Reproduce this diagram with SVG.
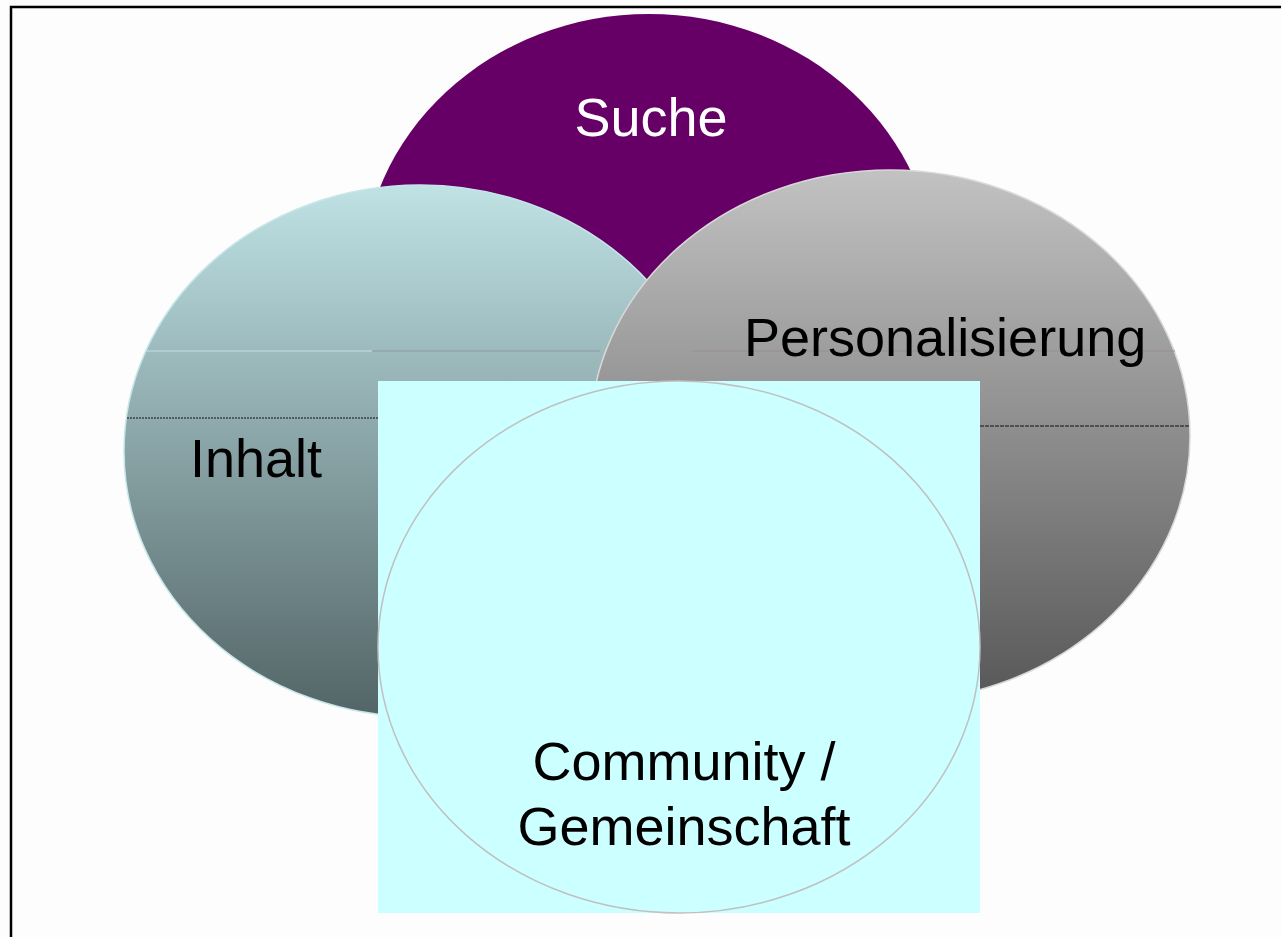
<svg xmlns="http://www.w3.org/2000/svg" width="1281" height="937" viewBox="0 0 1281 937">
  <style>
    .lbl { font-family: "Liberation Sans", Arial, sans-serif; font-size: 54px; fill: #000; }
    .white { fill: #ffffff; }
  </style>
  <defs>
    <linearGradient id="gTeal" x1="0" y1="0" x2="0" y2="1">
      <stop offset="0" stop-color="#bfe2e5"/>
      <stop offset="1" stop-color="#526466"/>
    </linearGradient>
    <linearGradient id="gGray" x1="0" y1="0" x2="0" y2="1">
      <stop offset="0" stop-color="#c2c2c2"/>
      <stop offset="1" stop-color="#575757"/>
    </linearGradient>
  </defs>
  <rect x="0" y="0" width="1281" height="937" fill="#fdfdfd"/>
  <rect x="11" y="7" width="1290" height="950" fill="none" stroke="#000" stroke-width="2.5"/>

  <g id="suche">
    <ellipse cx="649" cy="280" rx="287" ry="266" fill="#660066"/>
    <text class="lbl white" x="651" y="136" text-anchor="middle">Suche</text>
  </g>

  <g id="inhalt">
    <ellipse cx="420" cy="451" rx="296" ry="266" fill="url(#gTeal)" stroke="#c6e6e8" stroke-width="1.5"/>
    <line x1="146" y1="351" x2="372" y2="351" stroke="#c4e2e4" stroke-width="1"/>
    <line x1="372" y1="351" x2="600" y2="351" stroke="#8c9aa0" stroke-width="1"/>
    <line x1="127" y1="418" x2="378" y2="418" stroke="#111" stroke-width="1" stroke-dasharray="2,1"/>
    <text class="lbl" x="190" y="477">Inhalt</text>
  </g>

  <g id="personalisierung">
    <ellipse cx="890" cy="436" rx="300" ry="266" fill="url(#gGray)" stroke="#d8d8d8" stroke-width="1.5"/>
    <line x1="692" y1="351" x2="1175" y2="351" stroke="#9a8e9a" stroke-width="1"/>
    <line x1="980" y1="426" x2="1189" y2="426" stroke="#111" stroke-width="1" stroke-dasharray="4,1"/>
    <text class="lbl" x="744" y="356">Personalisierung</text>
  </g>

  <g id="community">
    <rect x="378" y="381" width="602" height="532" fill="#ccffff"/>
    <ellipse cx="679" cy="647" rx="301" ry="266" fill="none" stroke="#c0c0c0" stroke-width="1.5"/>
    <text class="lbl" x="684" y="780" text-anchor="middle">Community /</text>
    <text class="lbl" x="684" y="845" text-anchor="middle">Gemeinschaft</text>
  </g>

  <g id="connectors"/>
</svg>
